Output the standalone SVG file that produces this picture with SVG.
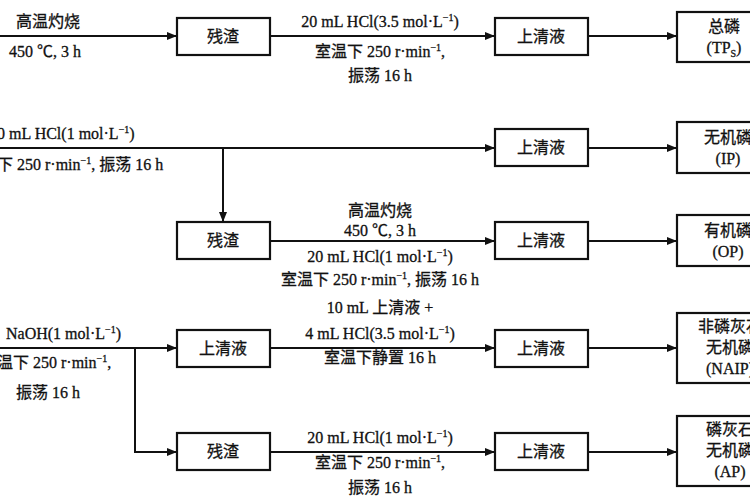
<svg xmlns="http://www.w3.org/2000/svg" width="750" height="500" viewBox="0 0 750 500">
<defs>
<marker id="ah" markerWidth="10" markerHeight="8" refX="10" refY="4" orient="auto" markerUnits="userSpaceOnUse"><path d="M0,0 L10,4 L0,8 Z" fill="#111"/></marker>
<style>
rect{fill:#fff;stroke:#111;stroke-width:2.2}
.c line,.c path{stroke:#111;stroke-width:2;fill:none}
text{font-family:"Liberation Serif","Noto Sans CJK SC",serif;font-size:16px;fill:#111;stroke:#111;stroke-width:0.3}
.m{text-anchor:middle}
</style>
</defs>
<rect x="0" y="0" width="750" height="500" style="fill:#fff;stroke:none"/>
<g class="c">
<line x1="0" y1="36" x2="177" y2="36" marker-end="url(#ah)"/>
<line x1="270" y1="36" x2="495" y2="36" marker-end="url(#ah)"/>
<line x1="588" y1="36" x2="677" y2="36" marker-end="url(#ah)"/>
<line x1="0" y1="148" x2="495" y2="148" marker-end="url(#ah)"/>
<line x1="223" y1="148" x2="223" y2="222" marker-end="url(#ah)"/>
<line x1="588" y1="148" x2="677" y2="148" marker-end="url(#ah)"/>
<line x1="270" y1="241" x2="495" y2="241" marker-end="url(#ah)"/>
<line x1="588" y1="241" x2="677" y2="241" marker-end="url(#ah)"/>
<line x1="0" y1="348" x2="177" y2="348" marker-end="url(#ah)"/>
<path d="M135,348 V452 H177" marker-end="url(#ah)"/>
<line x1="270" y1="348" x2="495" y2="348" marker-end="url(#ah)"/>
<line x1="588" y1="348" x2="677" y2="348" marker-end="url(#ah)"/>
<line x1="270" y1="452" x2="495" y2="452" marker-end="url(#ah)"/>
<line x1="588" y1="452" x2="677" y2="452" marker-end="url(#ah)"/>
</g>
<g id="n1"><rect x="177" y="18" width="93" height="37"/><text class="m" x="223" y="42">残渣</text></g>
<g id="n2"><rect x="495" y="18" width="93" height="37"/><text class="m" x="541" y="42">上清液</text></g>
<g id="n3"><rect x="677" y="12" width="90" height="50"/><text class="m" x="724" y="32">总磷</text><text class="m" x="724" y="53">(TP<tspan font-size="10" dy="4">S</tspan><tspan dy="-4">)</tspan></text></g>
<g id="n4"><rect x="495" y="129" width="93" height="37"/><text class="m" x="541" y="153">上清液</text></g>
<g id="n5"><rect x="677" y="122" width="90" height="51"/><text class="m" x="728" y="143">无机磷</text><text class="m" x="728" y="164">(IP)</text></g>
<g id="n6"><rect x="177" y="222" width="93" height="37"/><text class="m" x="223" y="246">残渣</text></g>
<g id="n7"><rect x="495" y="222" width="93" height="37"/><text class="m" x="541" y="246">上清液</text></g>
<g id="n8"><rect x="677" y="215" width="90" height="51"/><text class="m" x="728" y="236">有机磷</text><text class="m" x="728" y="257">(OP)</text></g>
<g id="n9"><rect x="177" y="330" width="93" height="37"/><text class="m" x="223" y="354">上清液</text></g>
<g id="n10"><rect x="495" y="330" width="93" height="37"/><text class="m" x="541" y="354">上清液</text></g>
<g id="n11"><rect x="677" y="313" width="90" height="70"/><text class="m" x="730" y="332">非磷灰石</text><text class="m" x="730" y="353">无机磷</text><text class="m" x="730" y="374">(NAIP)</text></g>
<g id="n12"><rect x="177" y="433" width="93" height="37"/><text class="m" x="223" y="457">残渣</text></g>
<g id="n13"><rect x="495" y="433" width="93" height="37"/><text class="m" x="541" y="457">上清液</text></g>
<g id="n14"><rect x="677" y="416" width="90" height="70"/><text class="m" x="730" y="435">磷灰石</text><text class="m" x="730" y="456">无机磷</text><text class="m" x="730" y="477">(AP)</text></g>
<g id="labels">
<text class="m" x="48" y="27">高温灼烧</text>
<text class="m" x="45" y="57">450 ℃, 3 h</text>
<text class="m" x="380" y="27">20 mL HCl(3.5 mol·L<tspan font-size="10" dy="-6">−1</tspan><tspan dy="6">)</tspan></text>
<text class="m" x="380" y="57">室温下 250 r·min<tspan font-size="10" dy="-6">−1</tspan><tspan dy="6">,</tspan></text>
<text class="m" x="380" y="81">振荡 16 h</text>
<text x="-3" y="139">0 mL HCl(1 mol·L<tspan font-size="10" dy="-6">−1</tspan><tspan dy="6">)</tspan></text>
<text x="-3" y="170">下 250 r·min<tspan font-size="10" dy="-6">−1</tspan><tspan dy="6">, 振荡 16 h</tspan></text>
<text class="m" x="380" y="216">高温灼烧</text>
<text class="m" x="380" y="236">450 ℃, 3 h</text>
<text class="m" x="380" y="262">20 mL HCl(1 mol·L<tspan font-size="10" dy="-6">−1</tspan><tspan dy="6">)</tspan></text>
<text class="m" x="380" y="285">室温下 250 r·min<tspan font-size="10" dy="-6">−1</tspan><tspan dy="6">, 振荡 16 h</tspan></text>
<text x="6" y="339">NaOH(1 mol·L<tspan font-size="10" dy="-6">−1</tspan><tspan dy="6">)</tspan></text>
<text x="-3" y="368">温下 250 r·min<tspan font-size="10" dy="-6">−1</tspan><tspan dy="6">,</tspan></text>
<text class="m" x="48" y="398">振荡 16 h</text>
<text class="m" x="380" y="313">10 mL 上清液 +</text>
<text class="m" x="380" y="339">4 mL HCl(3.5 mol·L<tspan font-size="10" dy="-6">−1</tspan><tspan dy="6">)</tspan></text>
<text class="m" x="380" y="363">室温下静置 16 h</text>
<text class="m" x="380" y="443">20 mL HCl(1 mol·L<tspan font-size="10" dy="-6">−1</tspan><tspan dy="6">)</tspan></text>
<text class="m" x="380" y="468">室温下 250 r·min<tspan font-size="10" dy="-6">−1</tspan><tspan dy="6">,</tspan></text>
<text class="m" x="380" y="493">振荡 16 h</text>
</g>
</svg>
